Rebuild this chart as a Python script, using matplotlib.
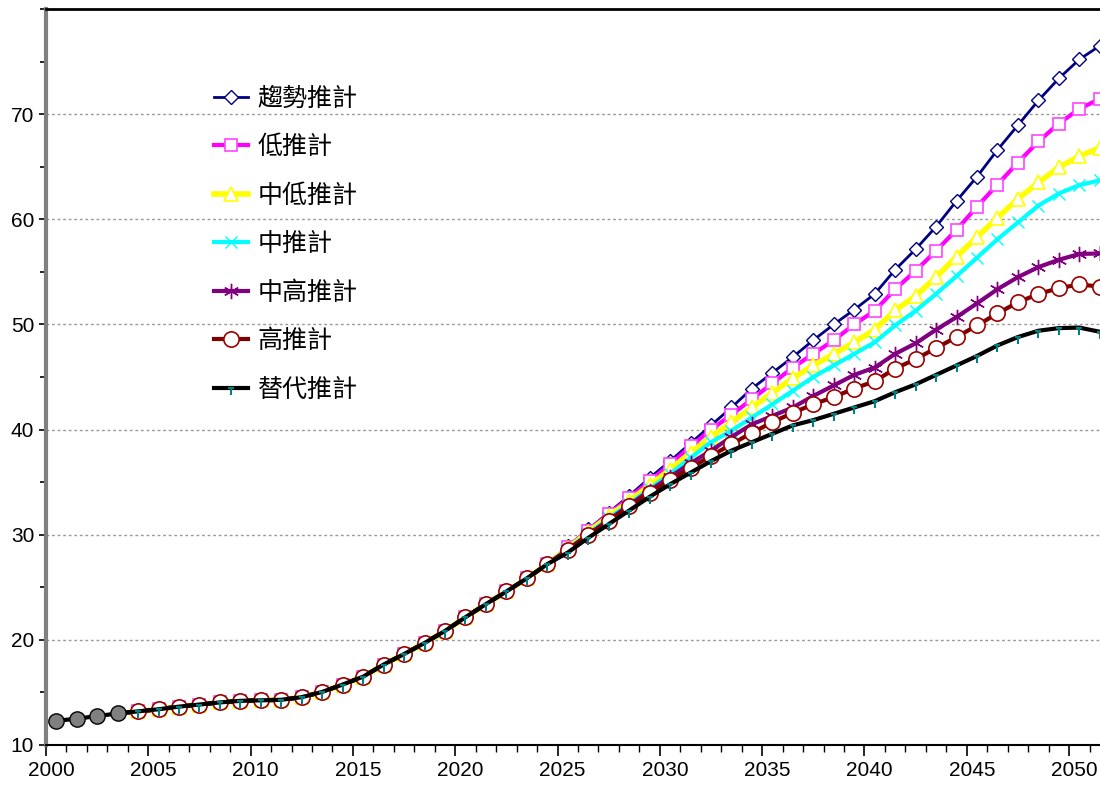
import numpy as np
import matplotlib
matplotlib.use("Agg")
import matplotlib.pyplot as plt
from matplotlib.path import Path
from matplotlib.ticker import MultipleLocator
import matplotlib.transforms as mtransforms

plt.rcParams['font.family'] = ['Liberation Sans', 'DejaVu Sans']

# actual values 2000-2003, projections 2003-2051
years_actual = np.arange(2000, 2004)
actual = [12.3, 12.5, 12.75, 13.0]

years_proj = np.arange(2003, 2052)
# shared part 2003-2024
common = [13.0, 13.2, 13.4, 13.65, 13.85, 14.05, 14.2, 14.25, 14.3, 14.55, 15.05,
          15.75, 16.5, 17.65, 18.65, 19.7, 20.85, 22.15, 23.4, 24.6, 25.85, 27.2]

trend = [28.9, 30.5, 32.1, 33.7, 35.4, 37.0, 38.7, 40.4, 42.1, 43.9, 45.4, 46.9, 48.5,
         50.0, 51.4, 52.9, 55.2, 57.15, 59.3, 61.75, 64.05, 66.6, 68.95, 71.3, 73.4,
         75.2, 76.5]
low = [28.8, 30.4, 31.95, 33.5, 35.1, 36.7, 38.4, 40.0, 41.4, 42.9, 44.4, 45.9, 47.2,
       48.5, 50.0, 51.3, 53.35, 55.1, 57.0, 59.0, 61.2, 63.3, 65.4, 67.4, 69.1, 70.5,
       71.45]
mid_low = [28.7, 30.25, 31.75, 33.2, 34.7, 36.2, 37.8, 39.3, 40.7, 42.1, 43.5, 44.9,
           46.1, 47.2, 48.3, 49.5, 51.35, 52.7, 54.5, 56.45, 58.3, 60.15, 61.95, 63.5,
           64.95, 66.0, 66.8]
mid = [28.65, 30.1, 31.55, 32.95, 34.35, 35.8, 37.3, 38.8, 39.9, 41.15, 42.4, 43.7,
       45.0, 46.1, 47.2, 48.3, 49.9, 51.3, 52.9, 54.6, 56.35, 58.1, 59.7, 61.3, 62.45,
       63.25, 63.7]
mid_high = [28.6, 30.0, 31.4, 32.8, 34.2, 35.5, 36.8, 38.0, 39.3, 40.5, 41.3, 42.1,
            43.2, 44.2, 45.2, 45.9, 47.2, 48.2, 49.5, 50.7, 52.0, 53.35, 54.5, 55.45,
            56.15, 56.7, 56.75]
high = [28.5, 30.0, 31.3, 32.7, 34.0, 35.2, 36.35, 37.5, 38.6, 39.7, 40.7, 41.6, 42.4,
        43.1, 43.9, 44.6, 45.8, 46.7, 47.75, 48.8, 49.9, 51.05, 52.1, 52.9, 53.45,
        53.8, 53.6]
alt = [28.3, 29.7, 31.0, 32.3, 33.6, 34.8, 35.9, 37.0, 38.0, 38.8, 39.6, 40.4, 40.9,
       41.5, 42.1, 42.7, 43.55, 44.3, 45.2, 46.1, 47.0, 48.0, 48.8, 49.4, 49.65, 49.7,
       49.3]

labels = ['趨勢推計', '低推計', '中低推計', '中推計', '中高推計', '高推計', '替代推計']

# T shaped marker for the 替代 series
t_marker = Path([(-0.5, 0), (0.5, 0), (0, 0), (0, -1)],
                [Path.MOVETO, Path.LINETO, Path.MOVETO, Path.LINETO])

styles = [
    dict(color='#000080', lw=2, marker='D', ms=7, mfc='white', mec='#000080', mew=1),
    dict(color='#FF00FF', lw=3, marker='s', ms=9, mfc='white', mec='#FF44FF', mew=1.2),
    dict(color='#FFFF00', lw=4, marker='^', ms=10, mfc='white', mec='#FFFF00', mew=1.2),
    dict(color='#00FFFF', lw=3, marker='x', ms=9, mec='#00FFFF', mew=1),
    dict(color='#800080', lw=3, marker=(6, 2, 0), ms=11, mec='#800080', mew=1),
    dict(color='#800000', lw=3, marker='o', ms=11, mfc='white', mec='#990000', mew=1.2),
    dict(color='black', lw=3, marker=t_marker, ms=10, mec='#008080', mew=1.5),
]

fig = plt.figure(figsize=(11, 7.87), dpi=100)
ax = fig.add_axes([46 / 1100, 42 / 787, 1064 / 1100, 736 / 787])

series = [trend, low, mid_low, mid, mid_high, high, alt]
for vals, lab, st in zip(series, labels, styles):
    ax.plot(years_proj + 0.5, common + vals, label=lab, markevery=slice(1, None),
            zorder=3, **st)

ax.plot(years_actual + 0.5, actual, color='black', lw=3, marker='o', ms=11,
        mfc='#808080', mec='black', mew=1, zorder=4)

ax.set_xlim(2000, 2052)
ax.set_ylim(10, 80)
ax.xaxis.set_major_locator(MultipleLocator(5))
ax.xaxis.set_minor_locator(MultipleLocator(1))
ax.yaxis.set_major_locator(MultipleLocator(10))
ax.yaxis.set_minor_locator(MultipleLocator(5))
ax.set_yticks(range(10, 80, 10))
ax.tick_params(axis='x', which='major', length=8, width=1.2, labelsize=15, direction='out')
ax.tick_params(axis='x', which='minor', length=5, width=1, direction='out')
ax.tick_params(axis='y', which='major', length=5, width=1.2, labelsize=15, direction='out')
ax.tick_params(axis='y', which='minor', length=4, width=1.2, direction='out')

offset = mtransforms.ScaledTranslation(5 / 100, 0, fig.dpi_scale_trans)
for lbl in ax.get_xticklabels():
    lbl.set_transform(lbl.get_transform() + offset)

for v in range(20, 80, 10):
    ax.axhline(v, color='#999999', lw=1, ls=(0, (2, 2)), zorder=1)

ax.spines['left'].set_color('#808080')
ax.spines['left'].set_linewidth(3)
ax.spines['top'].set_linewidth(2)
ax.spines['bottom'].set_linewidth(1.5)
ax.spines['right'].set_visible(False)

leg = ax.legend(loc='upper left', bbox_to_anchor=(0.158, 0.896), frameon=False,
                prop={'family': ['Noto Sans CJK TC', 'DejaVu Sans'], 'size': 18},
                handlelength=1.35, handletextpad=0.4, labelspacing=0.9,
                borderpad=0, borderaxespad=0)

fig.savefig('out.png', dpi=100)
